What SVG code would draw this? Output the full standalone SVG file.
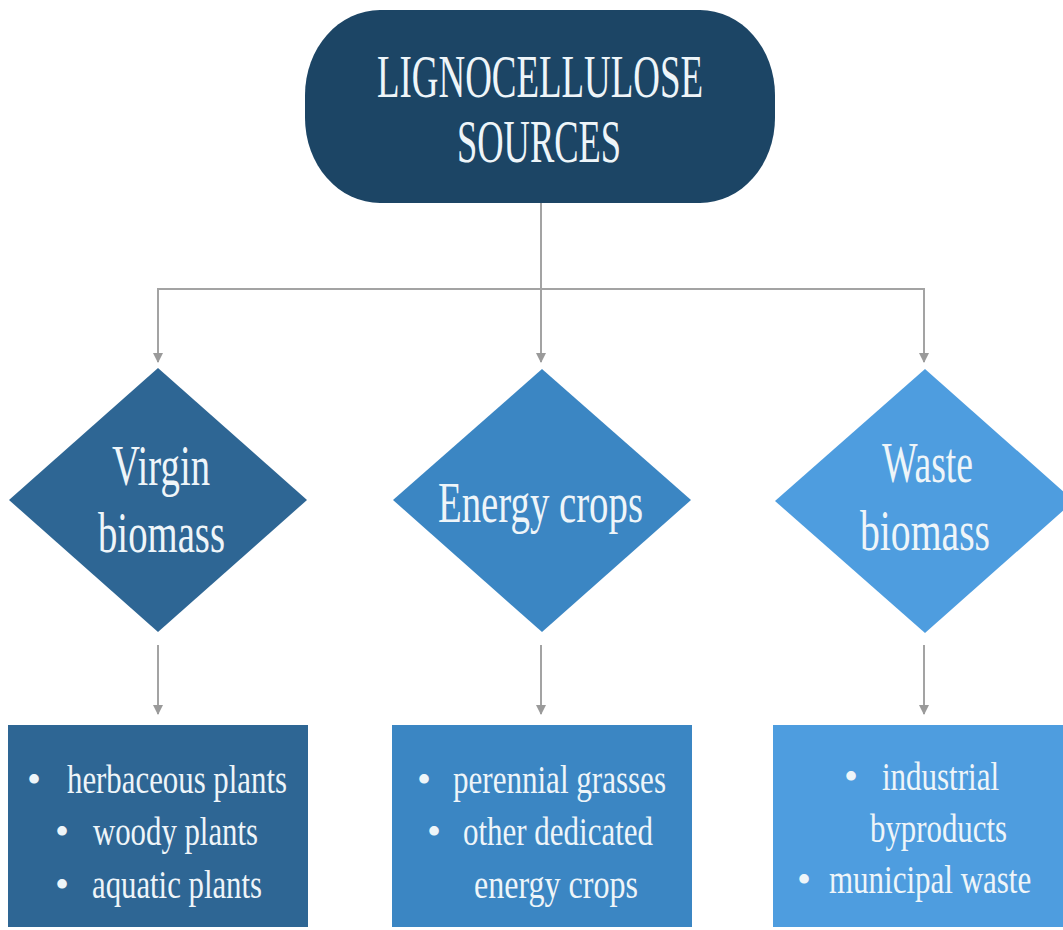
<svg xmlns="http://www.w3.org/2000/svg" width="1063" height="930" viewBox="0 0 1063 930">
  <defs>
    <marker id="arrow" viewBox="0 0 10 10" refX="9" refY="5" markerWidth="5" markerHeight="5" orient="auto" markerUnits="strokeWidth">
      <path d="M0,0 L10,5 L0,10 z" fill="#9a9a9a"/>
    </marker>
  </defs>
  <style>
    .lbl { font-family: "Liberation Serif", "Times New Roman", serif; fill: #eef5f9; }
    .title { font-size: 62px; }
    .head { font-size: 56px; }
    .item { font-size: 40px; }
    .conn { stroke: #a3a3a3; stroke-width: 2; fill: none; }
    .dark { fill: #1c4565; }
    .c1 { fill: #2e6694; }
    .c2 { fill: #3b86c3; }
    .c3 { fill: #4e9ddf; }
  </style>

  <rect width="1063" height="930" fill="#ffffff"/>

  <!-- connectors: trunk, branch bar, drops to diamonds, drops to lists -->
  <g id="connectors">
    <line class="conn" x1="541" y1="203" x2="541" y2="362" marker-end="url(#arrow)"/>
    <line class="conn" x1="157" y1="289" x2="925" y2="289"/>
    <line class="conn" x1="158" y1="289" x2="158" y2="362" marker-end="url(#arrow)"/>
    <line class="conn" x1="924" y1="289" x2="924" y2="362" marker-end="url(#arrow)"/>
    <line class="conn" x1="158" y1="645" x2="158" y2="714" marker-end="url(#arrow)"/>
    <line class="conn" x1="541" y1="645" x2="541" y2="714" marker-end="url(#arrow)"/>
    <line class="conn" x1="924" y1="645" x2="924" y2="714" marker-end="url(#arrow)"/>
  </g>

  <!-- root -->
  <g id="root">
    <rect class="dark" x="305" y="10" width="470" height="193" rx="75" ry="85"/>
    <text class="lbl title" x="377" y="97" textLength="326" lengthAdjust="spacingAndGlyphs">LIGNOCELLULOSE</text>
    <text class="lbl title" x="457" y="162" textLength="164" lengthAdjust="spacingAndGlyphs">SOURCES</text>
  </g>

  <!-- category diamonds -->
  <g id="virgin">
    <polygon class="c1" points="158,368 307,500 158,632 9,500"/>
    <text class="lbl head" x="112" y="485" textLength="98" lengthAdjust="spacingAndGlyphs">Virgin</text>
    <text class="lbl head" x="98" y="552" textLength="127" lengthAdjust="spacingAndGlyphs">biomass</text>
  </g>

  <g id="energy">
    <polygon class="c2" points="542,369 691,500 542,632 393,500"/>
    <text class="lbl head" x="438" y="522" textLength="205" lengthAdjust="spacingAndGlyphs">Energy crops</text>
  </g>

  <g id="waste">
    <polygon class="c3" points="925,369 1074,501 925,633 775,501"/>
    <text class="lbl head" x="882" y="482" textLength="91" lengthAdjust="spacingAndGlyphs">Waste</text>
    <text class="lbl head" x="860" y="550" textLength="130" lengthAdjust="spacingAndGlyphs">biomass</text>
  </g>

  <!-- example lists -->
  <g id="virgin-list">
    <rect class="c1" x="8" y="725" width="300" height="202"/>
    <text class="lbl item" x="27" y="793">•</text>
    <text class="lbl item" x="67" y="793" textLength="220" lengthAdjust="spacingAndGlyphs">herbaceous plants</text>
    <text class="lbl item" x="55" y="845">•</text>
    <text class="lbl item" x="93" y="845" textLength="165" lengthAdjust="spacingAndGlyphs">woody plants</text>
    <text class="lbl item" x="55" y="898">•</text>
    <text class="lbl item" x="92" y="898" textLength="170" lengthAdjust="spacingAndGlyphs">aquatic plants</text>
  </g>

  <g id="energy-list">
    <rect class="c2" x="392" y="725" width="300" height="202"/>
    <text class="lbl item" x="417" y="793">•</text>
    <text class="lbl item" x="453" y="793" textLength="213" lengthAdjust="spacingAndGlyphs">perennial grasses</text>
    <text class="lbl item" x="427" y="845">•</text>
    <text class="lbl item" x="463" y="845" textLength="190" lengthAdjust="spacingAndGlyphs">other dedicated</text>
    <text class="lbl item" x="474" y="898" textLength="164" lengthAdjust="spacingAndGlyphs">energy crops</text>
  </g>

  <g id="waste-list">
    <rect class="c3" x="773" y="725" width="290" height="202"/>
    <text class="lbl item" x="844" y="790">•</text>
    <text class="lbl item" x="882" y="790" textLength="117" lengthAdjust="spacingAndGlyphs">industrial</text>
    <text class="lbl item" x="870" y="842" textLength="137" lengthAdjust="spacingAndGlyphs">byproducts</text>
    <text class="lbl item" x="797" y="893">•</text>
    <!-- narrowed with a horizontal scale so the line stays inside the box -->
    <text class="lbl item" transform="translate(829,893) scale(0.775,1)" x="0" y="0">municipal waste</text>
  </g>
</svg>
